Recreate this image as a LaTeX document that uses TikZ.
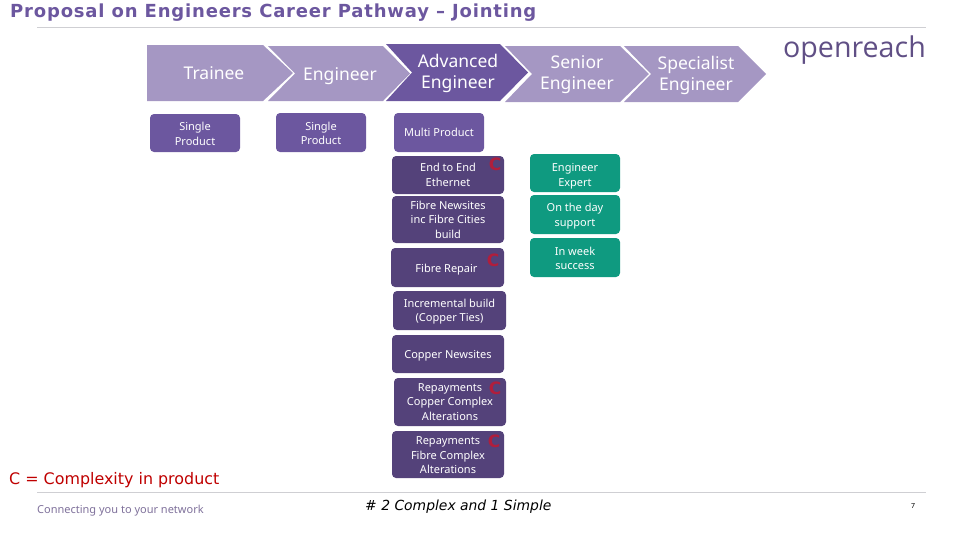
\documentclass[tikz,border=0pt]{standalone}
\usepackage{fontspec}
\setmainfont{Noto Sans}
\newfontfamily\titlefont{DejaVu Sans}
\newfontfamily\headfont[LetterSpace=4.5]{DejaVu Sans}
\newfontfamily\logofont{Open Sans}
\usetikzlibrary{positioning}

\definecolor{lightpurple}{HTML}{A597C3}
\definecolor{midpurple}{HTML}{6C579F}
\definecolor{darkpurple}{HTML}{54427A}
\definecolor{tealbox}{HTML}{0F9A80}
\definecolor{markred}{HTML}{B01E3C}
\definecolor{rulegrey}{HTML}{CFCFD3}

\newcommand{\low}[1]{\rule{0pt}{#1pt}}

\tikzset{
  chevtext/.style={text=white, align=center, font=\fontsize{17.5}{21}\selectfont, inner sep=0pt},
  box/.style={rounded corners=4pt, text=white, align=center, inner sep=0pt,
              font=\fontsize{11}{14.5}\selectfont, minimum width=90pt, minimum height=38pt},
  simplebox/.style={box, fill=midpurple},
  darkbox/.style={box, fill=darkpurple, minimum width=112pt},
  expertbox/.style={box, fill=tealbox},
  cmark/.style={text=markred, font=\titlefont\bfseries\fontsize{17}{17}\selectfont, inner sep=0pt},
  rulerline/.style={rulegrey, line width=0.8pt}
}

\begin{document}
\begin{tikzpicture}[x=1pt, y=-1pt]

\useasboundingbox (0,0) rectangle (964,539);

% title and rules
\node (title) [anchor=west, inner sep=0pt, text=midpurple, font=\headfont\bfseries\fontsize{18}{20}\selectfont] at (10,13) {Proposal on Engineers Career Pathway – Jointing};
\coordinate (ruleAl) at (37,27);
\coordinate (ruleAr) at (926,27);
\coordinate (ruleBl) at (37,492);
\coordinate (ruleBr) at (926,492);
\draw [rulerline] (ruleAl) -- (ruleAr);
\draw [rulerline] (ruleBl) -- (ruleBr);

\node (logo) [anchor=east, inner sep=0pt, text=darkpurple!85!lightpurple, font=\logofont\fontsize{28.6}{30}\selectfont] at (926,50) {openreach};

% chevrons
\fill [lightpurple] (147,45) -- (263,45) -- (293,73) -- (263,101) -- (147,101) -- cycle;
\fill [lightpurple] (268,46) -- (383,46) -- (410,73.5) -- (383,101) -- (268,101) -- (295,73.5) -- cycle;
\fill [midpurple] (386,44) -- (500,44) -- (528,72.5) -- (500,101) -- (386,101) -- (412,72.5) -- cycle;
\fill [lightpurple] (505,46) -- (620,46) -- (649,74) -- (620,102) -- (505,102) -- (532,74) -- cycle;
\fill [lightpurple] (624,46) -- (738,46) -- (766,74) -- (738,102) -- (624,102) -- (651,74) -- cycle;

\node (trainee) [chevtext] at (214,73.5) {Trainee};
\node (engineer) [chevtext] at (340,76) {Engineer};
\node (advanced) [chevtext] at (458,73.5) {Advanced\\Engineer};
\node (senior) [chevtext] at (577,75) {Senior\\Engineer};
\node (specialist) [chevtext] at (696,75) {Specialist\\Engineer};

% product boxes
\node (single1) [simplebox] at (195,133) {\low{10.5}Single\\Product};
\node (single2) [simplebox, minimum height=39pt] at (321,132.5) {\low{10.5}Single\\Product};
\node (multi) [simplebox, minimum height=39pt] at (439,132.5) {Multi Product};

\node (ethernet) [darkbox] at (448,175) {End to End\\Ethernet};
\node (newsites) [darkbox, minimum height=47pt] at (448,219.5) {Fibre Newsites\\inc Fibre Cities\\build};
\node (repair) [darkbox, minimum height=39pt, minimum width=113pt] at (447.5,267.5) {\low{12.5}Fibre Repair\hspace{2pt}};
\node (incremental) [darkbox, minimum height=39pt, minimum width=113pt] at (449.5,310.5) {\low{10.5}Incremental build\\(Copper Ties)};
\node (copper) [darkbox] at (448,354) {\low{12.5}Copper Newsites};
\node (repaycopper) [darkbox, minimum height=48pt] at (450,402) {Repayments\\Copper Complex\\Alterations};
\node (repayfibre) [darkbox, minimum height=47pt] at (448,454.5) {\low{9.5}Repayments\\Fibre Complex\\Alterations};

\node (expert) [expertbox] at (575,173) {\low{14.5}Engineer\\Expert};
\node (onday) [expertbox, minimum height=39pt] at (575,214.5) {\low{11.5}On the day\\support};
\node (inweek) [expertbox, minimum height=39pt] at (575,257.5) {\low{10.5}In week\\success};

% complexity marks
\node (c1) [cmark] at (495,164) {C};
\node (c2) [cmark] at (493,260) {C};
\node (c3) [cmark] at (495,388) {C};
\node (c4) [cmark] at (494,441) {C};

% footer
\node (legend) [anchor=west, inner sep=0pt, text=red!75!black, font=\titlefont\fontsize{15.9}{18}\selectfont] at (9,480) {C = Complexity in product};
\node (strap) [anchor=west, inner sep=0pt, text=darkpurple!75, font=\fontsize{11}{12}\selectfont] at (37,511) {Connecting you to your network};
\node (count) [anchor=west, inner sep=0pt, font=\titlefont\itshape\fontsize{13.9}{15}\selectfont] at (365,507) {\# 2 Complex and 1 Simple};
\node (page) [inner sep=0pt, font=\fontsize{7}{8}\selectfont] at (913,506) {7};

\end{tikzpicture}
\end{document}
